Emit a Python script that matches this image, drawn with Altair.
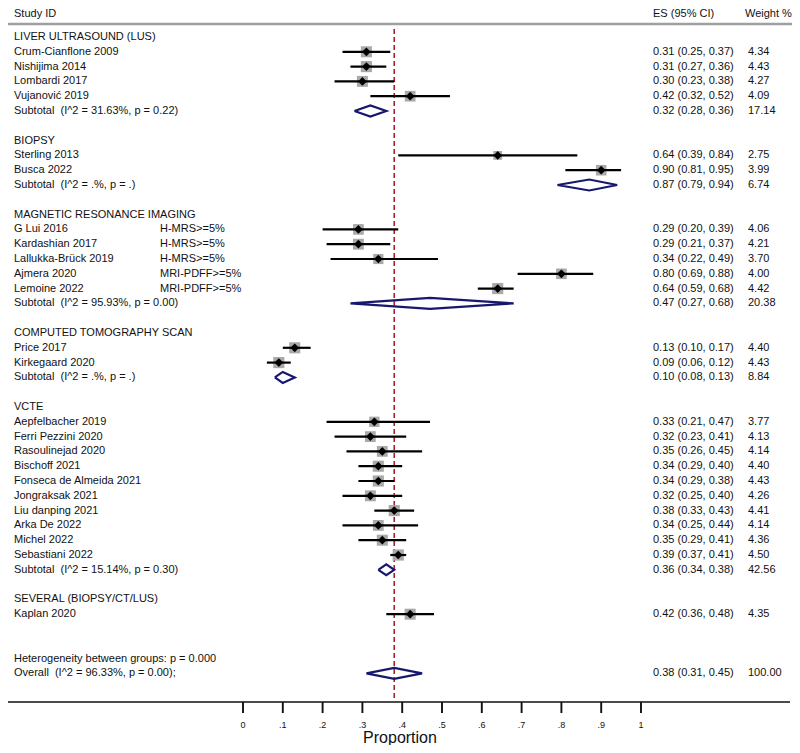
import altair as alt
import pandas as pd

# ---------------- data ----------------
group_names = [
    "LIVER ULTRASOUND (LUS)",
    "BIOPSY",
    "MAGNETIC RESONANCE IMAGING",
    "COMPUTED TOMOGRAPHY SCAN",
    "VCTE",
    "SEVERAL (BIOPSY/CT/LUS)",
]

study_group = [0, 0, 0, 0,
               1, 1,
               2, 2, 2, 2, 2,
               3, 3,
               4, 4, 4, 4, 4, 4, 4, 4, 4, 4,
               5]
study_names = [
    "Crum-Cianflone 2009", "Nishijima 2014", "Lombardi 2017", "Vujanović 2019",
    "Sterling 2013", "Busca 2022",
    "G Lui 2016", "Kardashian 2017", "Lallukka-Brück 2019", "Ajmera 2020", "Lemoine 2022",
    "Price 2017", "Kirkegaard 2020",
    "Aepfelbacher 2019", "Ferri Pezzini 2020", "Rasoulinejad 2020", "Bischoff 2021",
    "Fonseca de Almeida 2021", "Jongraksak 2021", "Liu danping 2021", "Arka De 2022",
    "Michel 2022", "Sebastiani 2022",
    "Kaplan 2020",
]
study_notes = [
    "", "", "", "",
    "", "",
    "H-MRS>=5%", "H-MRS>=5%", "H-MRS>=5%", "MRI-PDFF>=5%", "MRI-PDFF>=5%",
    "", "",
    "", "", "", "", "", "", "", "", "", "",
    "",
]
study_es = [0.31, 0.31, 0.30, 0.42,
            0.64, 0.90,
            0.29, 0.29, 0.34, 0.80, 0.64,
            0.13, 0.09,
            0.33, 0.32, 0.35, 0.34, 0.34, 0.32, 0.38, 0.34, 0.35, 0.39,
            0.42]
study_lo = [0.25, 0.27, 0.23, 0.32,
            0.39, 0.81,
            0.20, 0.21, 0.22, 0.69, 0.59,
            0.10, 0.06,
            0.21, 0.23, 0.26, 0.29, 0.29, 0.25, 0.33, 0.25, 0.29, 0.37,
            0.36]
study_hi = [0.37, 0.36, 0.38, 0.52,
            0.84, 0.95,
            0.39, 0.37, 0.49, 0.88, 0.68,
            0.17, 0.12,
            0.47, 0.41, 0.45, 0.40, 0.38, 0.40, 0.43, 0.44, 0.41, 0.41,
            0.48]
study_weight = [4.34, 4.43, 4.27, 4.09,
                2.75, 3.99,
                4.06, 4.21, 3.70, 4.00, 4.42,
                4.40, 4.43,
                3.77, 4.13, 4.14, 4.40, 4.43, 4.26, 4.41, 4.14, 4.36, 4.50,
                4.35]

subtotal_labels = [
    "Subtotal\u00a0\u00a0(I^2 = 31.63%, p = 0.22)",
    "Subtotal\u00a0\u00a0(I^2 = .%, p = .)",
    "Subtotal\u00a0\u00a0(I^2 = 95.93%, p = 0.00)",
    "Subtotal\u00a0\u00a0(I^2 = .%, p = .)",
    "Subtotal\u00a0\u00a0(I^2 = 15.14%, p = 0.30)",
    None,
]
subtotal_es = [0.32, 0.87, 0.47, 0.10, 0.36, None]
subtotal_lo = [0.28, 0.79, 0.27, 0.08, 0.34, None]
subtotal_hi = [0.36, 0.94, 0.68, 0.13, 0.38, None]
subtotal_weight = [17.14, 6.74, 20.38, 8.84, 42.56, None]

het_label = "Heterogeneity between groups: p = 0.000"
overall_label = "Overall\u00a0\u00a0(I^2 = 96.33%, p = 0.00);"
overall_es, overall_lo, overall_hi, overall_weight = 0.38, 0.31, 0.45, 100.00

tick_values = [0, 0.1, 0.2, 0.3, 0.4, 0.5, 0.6, 0.7, 0.8, 0.9, 1.0]
tick_labels = ["0", ".1", ".2", ".3", ".4", ".5", ".6", ".7", ".8", ".9", "1"]

header_texts = ["Study ID", "ES (95% CI)", "Weight %"]
x_title = "Proportion"

# ---------------- build tables ----------------
label_rows, study_rows, diamond_rows = [], [], []
r = 0
for g, gname in enumerate(group_names):
    label_rows.append({"row": r, "label": gname, "note": "", "es_txt": "", "w_txt": ""})
    r += 1
    for i, sg in enumerate(study_group):
        if sg != g:
            continue
        label_rows.append({
            "row": r, "label": study_names[i], "note": study_notes[i],
            "es_txt": f"{study_es[i]:.2f} ({study_lo[i]:.2f}, {study_hi[i]:.2f})",
            "w_txt": f"{study_weight[i]:.2f}",
        })
        study_rows.append({"row": r, "es": study_es[i], "lo": study_lo[i],
                           "hi": study_hi[i], "w": study_weight[i]})
        r += 1
    if subtotal_labels[g] is not None:
        label_rows.append({
            "row": r, "label": subtotal_labels[g], "note": "",
            "es_txt": f"{subtotal_es[g]:.2f} ({subtotal_lo[g]:.2f}, {subtotal_hi[g]:.2f})",
            "w_txt": f"{subtotal_weight[g]:.2f}",
        })
        diamond_rows.append((g, r, subtotal_lo[g], subtotal_es[g], subtotal_hi[g]))
        r += 1
    r += 1

het_row = r + 1
overall_row = r + 2
label_rows.append({"row": het_row, "label": het_label, "note": "", "es_txt": "", "w_txt": ""})
label_rows.append({
    "row": overall_row, "label": overall_label, "note": "",
    "es_txt": f"{overall_es:.2f} ({overall_lo:.2f}, {overall_hi:.2f})",
    "w_txt": f"{overall_weight:.2f}",
})
diamond_rows.append((99, overall_row, overall_lo, overall_es, overall_hi))

half = 0.37
poly = []
for gid, row, lo, es, hi in diamond_rows:
    pts = [(lo, row), (es, row - half), (hi, row), (es, row + half), (lo, row)]
    for k, (px, py) in enumerate(pts):
        poly.append({"gid": gid, "k": k, "x": px, "y": py})

labels_df = pd.DataFrame(label_rows)
studies_df = pd.DataFrame(study_rows)
poly_df = pd.DataFrame(poly)
ticks_df = pd.DataFrame({"v": tick_values, "lab": tick_labels})

# ---------------- scales / geometry ----------------
W, H = 784, 737
px_per_unit = 398.0
x0 = -235.0 / px_per_unit
x1 = x0 + W / px_per_unit
row_px = 14.8
r0 = -29.0 / row_px
r1 = r0 + H / row_px

xs = alt.Scale(domain=[x0, x1], nice=False, zero=False)
ys = alt.Scale(domain=[r0, r1], nice=False, zero=False, reverse=True)

FONT = "Liberation Sans"
axis_row = (702 - 37) / row_px
tick_end = (713 - 37) / row_px
ticklab_row = (725 - 37) / row_px
dash_top = (29 - 37) / row_px
hline_row = (24 - 37) / row_px

X = lambda f: alt.X(f, scale=xs, axis=None)
Y = lambda f: alt.Y(f, scale=ys, axis=None)

base_text = dict(font=FONT, fontSize=11, color="#111111", align="left", baseline="middle")

txt_label = alt.Chart(labels_df).mark_text(**base_text).encode(
    x=alt.value(6), y=Y("row:Q"), text="label:N")
txt_note = alt.Chart(labels_df).mark_text(**base_text).encode(
    x=alt.value(152), y=Y("row:Q"), text="note:N")
txt_es = alt.Chart(labels_df).mark_text(**base_text).encode(
    x=alt.value(645), y=Y("row:Q"), text="es_txt:N")
txt_w = alt.Chart(labels_df).mark_text(**base_text).encode(
    x=alt.value(740), y=Y("row:Q"), text="w_txt:N")

header_df = pd.DataFrame({"t": header_texts, "px": [6, 645, 737]})
txt_header = alt.Chart(header_df).mark_text(
    font=FONT, fontSize=11, color="#111111", align="left", baseline="top").encode(
    x=alt.X("px:Q", scale=None), y=alt.value(0), text="t:N")

# header separator (two-point line) and x-axis line
sep_df = pd.DataFrame({"x": [x0, x1], "row": [hline_row, hline_row], "k": [0, 1]})
sep_line = alt.Chart(sep_df).mark_line(color="#a0a0a0", strokeWidth=2.6).encode(
    x=X("x:Q"), y=Y("row:Q"), order="k:Q")

axis_df = pd.DataFrame({"a": [x0], "b": [x1 - 0.005], "row": [axis_row]})
axis_line = alt.Chart(axis_df).mark_rule(color="#111111", strokeWidth=1.6).encode(
    x=X("a:Q"), x2="b:Q", y=Y("row:Q"))

ticks_df["a"] = axis_row
ticks_df["b"] = tick_end
ticks_df["lr"] = ticklab_row
tick_marks = alt.Chart(ticks_df).mark_rule(color="#111111", strokeWidth=1.9).encode(
    x=X("v:Q"), y=Y("a:Q"), y2="b:Q")
tick_text = alt.Chart(ticks_df).mark_text(font=FONT, fontSize=9, color="#111111",
                                          align="center", baseline="middle").encode(
    x=X("v:Q"), y=Y("lr:Q"), text="lab:N")
title_text = alt.Chart(pd.DataFrame({"t": [x_title]})).mark_text(
    font=FONT, fontSize=16, color="#111111", align="center", baseline="middle").encode(
    x=alt.value(392), y=alt.value(729.5), text="t:N")

ref_line = alt.Chart(pd.DataFrame({"v": [overall_es], "a": [dash_top], "b": [axis_row]})).mark_rule(
    color="#a3222b", strokeWidth=1.6, strokeDash=[5, 3]).encode(
    x=X("v:Q"), y=Y("a:Q"), y2="b:Q")

squares = alt.Chart(studies_df).mark_square(color="#a9a9a9", opacity=1).encode(
    x=X("es:Q"), y=Y("row:Q"),
    size=alt.Size("w:Q", scale=alt.Scale(domain=[0, 5], range=[0, 140]), legend=None))
ci = alt.Chart(studies_df).mark_rule(color="#000000", strokeWidth=2.2).encode(
    x=X("lo:Q"), x2="hi:Q", y=Y("row:Q"))
pts = alt.Chart(studies_df).mark_point(shape="diamond", filled=True, color="#000000",
                                       size=75, opacity=1).encode(
    x=X("es:Q"), y=Y("row:Q"))

diamonds = alt.Chart(poly_df).mark_line(color="#17176e", strokeWidth=2.2).encode(
    x=X("x:Q"), y=Y("y:Q"), detail="gid:N", order="k:Q")

chart = alt.layer(
    axis_line, ref_line, squares, ci, pts, diamonds,
    tick_marks, tick_text, title_text,
    txt_header, txt_label, txt_note, txt_es, txt_w, sep_line,
).properties(
    width=W, height=H, padding=0,
    autosize=alt.AutoSizeParams(type="none"),
).configure_view(stroke=None)

chart.save("out.html", embed_options={"renderer": "svg", "actions": False})
